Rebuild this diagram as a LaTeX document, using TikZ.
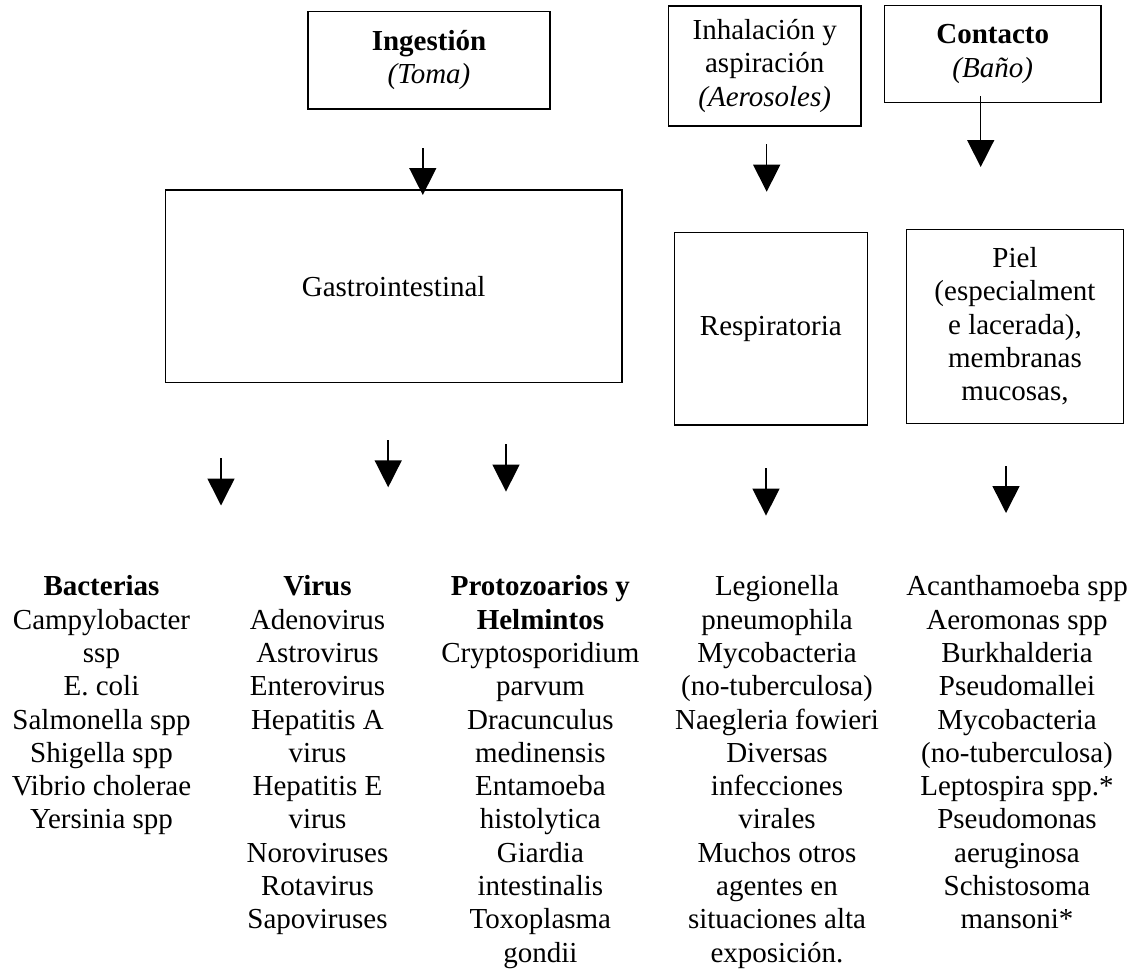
\documentclass[tikz,border=0pt]{standalone}
\usepackage{fontspec}
\setmainfont{Liberation Serif}
\usetikzlibrary{arrows.meta}

\tikzset{
  caja/.style={draw, line width=1.5pt, align=center, inner sep=0pt},
  lista/.style={anchor=north, align=center, inner sep=0pt},
  flecha/.style={line width=1.5pt, -{Triangle[width=27pt,length=27pt]}}
}

\begin{document}
\begin{tikzpicture}[x=1pt, y=-1pt, font=\fontsize{29}{33.3}\selectfont]
\useasboundingbox (0,0) rectangle (1141,970);
% Vias de exposicion
\node[caja, minimum width=241.8pt, minimum height=97.3pt] (ing) at (429,60.3) {\textbf{Ingestión}\\\textit{(Toma)}};
\node[caja, minimum width=192.7pt, minimum height=120.3pt] (inh) at (764.7,65.9) {Inhalación y\\aspiración\\\textit{(Aerosoles)}};
\node[caja, minimum width=216.7pt, minimum height=96.6pt] (con) at (992.7,54) {\textbf{Contacto}\\\textit{(Baño)}};
% Organos
\node[caja, minimum width=456.2pt, minimum height=192.3pt] (gas) at (393.7,286.2) {Gastrointestinal};
\node[caja, minimum width=193pt, minimum height=192.3pt] (res) at (770.8,328.8) {Respiratoria};
\node[caja, minimum width=216.6pt, minimum height=194pt] (pie) at (1015,326.3) {Piel\\(especialment\\e lacerada),\\membranas\\mucosas,};
% Agentes
\node[lista] (bac) at (101.5,575.5) {\textbf{Bacterias}\\Campylobacter\\ssp\\E. coli\\Salmonella spp\\Shigella spp\\Vibrio cholerae\\Yersinia spp};
\node[lista] (vir) at (317.5,575.5) {\textbf{Virus}\\Adenovirus\\Astrovirus\\Enterovirus\\Hepatitis A\\virus\\Hepatitis E\\virus\\Noroviruses\\Rotavirus\\Sapoviruses};
\node[lista] (pro) at (540.4,575.5) {\textbf{Protozoarios y}\\\textbf{Helmintos}\\Cryptosporidium\\parvum\\Dracunculus\\medinensis\\Entamoeba\\histolytica\\Giardia\\intestinalis\\Toxoplasma\\gondii};
\node[lista] (leg) at (777,575.5) {Legionella\\pneumophila\\Mycobacteria\\(no-tuberculosa)\\Naegleria fowieri\\Diversas\\infecciones\\virales\\Muchos otros\\agentes en\\situaciones alta\\exposición.};
\node[lista] (aca) at (1017,575.5) {Acanthamoeba spp\\Aeromonas spp\\Burkhalderia\\Pseudomallei\\Mycobacteria\\(no-tuberculosa)\\Leptospira spp.*\\Pseudomonas\\aeruginosa\\Schistosoma\\mansoni*};
% Extremos de las flechas
\coordinate (ing-a) at (422.8,148.3);
\coordinate (ing-b) at (422.8,195);
\coordinate (inh-a) at (766.7,144);
\coordinate (inh-b) at (766.7,191.7);
\coordinate (con-a) at (980.7,96);
\coordinate (con-b) at (980.7,167);
\coordinate (bac-a) at (221,458.2);
\coordinate (bac-b) at (221,505.5);
\coordinate (vir-a) at (388.2,440);
\coordinate (vir-b) at (388.2,487.3);
\coordinate (pro-a) at (506,444.4);
\coordinate (pro-b) at (506,491.6);
\coordinate (leg-a) at (766,468);
\coordinate (leg-b) at (766,515.6);
\coordinate (aca-a) at (1006,466);
\coordinate (aca-b) at (1006,513);
% Flechas
\draw[flecha] (ing-a) -- (ing-b);
\draw[flecha] (inh-a) -- (inh-b);
\draw[flecha] (con-a) -- (con-b);
\draw[flecha] (bac-a) -- (bac-b);
\draw[flecha] (vir-a) -- (vir-b);
\draw[flecha] (pro-a) -- (pro-b);
\draw[flecha] (leg-a) -- (leg-b);
\draw[flecha] (aca-a) -- (aca-b);
\end{tikzpicture}
\end{document}
